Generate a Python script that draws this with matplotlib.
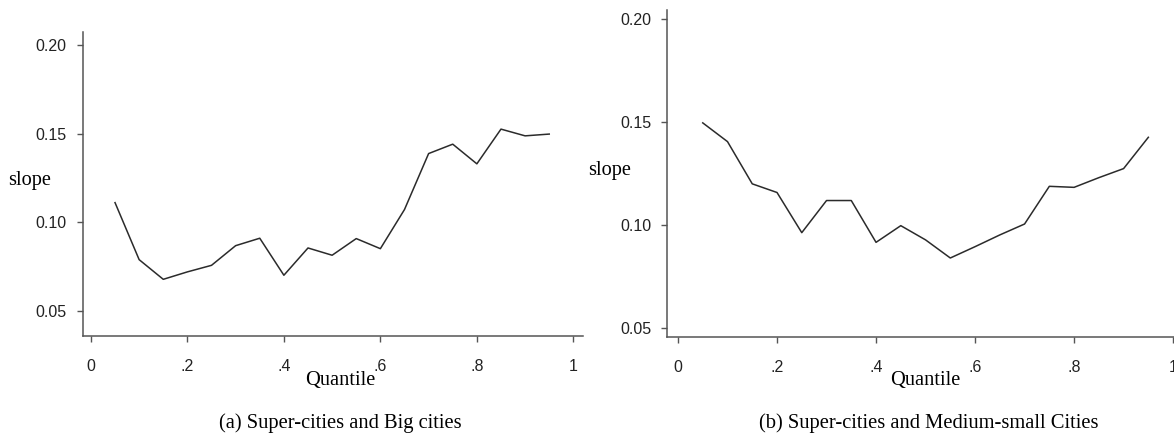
import numpy as np
import matplotlib
matplotlib.use('Agg')
import matplotlib.pyplot as plt

quantile = [0.05, 0.10, 0.15, 0.20, 0.25, 0.30, 0.35, 0.40, 0.45, 0.50,
            0.55, 0.60, 0.65, 0.70, 0.75, 0.80, 0.85, 0.90, 0.95]
slope_big = [0.1112, 0.0790, 0.0679, 0.0721, 0.0758, 0.0869, 0.0911, 0.0702, 0.0856, 0.0815,
             0.0909, 0.0852, 0.1073, 0.1389, 0.1442, 0.1331, 0.1527, 0.1489, 0.1499]
slope_small = [0.1497, 0.1406, 0.1201, 0.1159, 0.0964, 0.1120, 0.1120, 0.0917, 0.0998, 0.0929,
               0.0841, 0.0896, 0.0953, 0.1006, 0.1189, 0.1184, 0.1231, 0.1275, 0.1427]
xticks = [0, 0.2, 0.4, 0.6, 0.8, 1]
xlabels = ['0', '.2', '.4', '.6', '.8', '1']
yticks = [0.05, 0.10, 0.15, 0.20]
ylabels = ['0.05', '0.10', '0.15', '0.20']
captions = ['(a) Super-cities and Big cities', '(b) Super-cities and Medium-small Cities']

W, H = 1174, 433
fig = plt.figure(figsize=(W / 100, H / 100), dpi=100)

def px(x0, y0, x1, y1):
    # pixel box (top-left origin) -> figure fraction rect
    return [x0 / W, 1 - y1 / H, (x1 - x0) / W, (y1 - y0) / H]

serif = 'Liberation Serif'
sans = 'Liberation Sans'

def panel(rect, y, ylim, xlim):
    ax = fig.add_axes(rect)
    ax.plot(quantile, y, color='#2b2b2b', lw=1.1)
    ax.set_xlim(xlim)
    ax.set_ylim(ylim)
    for s in ['top', 'right']:
        ax.spines[s].set_visible(False)
    for s in ['left', 'bottom']:
        ax.spines[s].set_color('#555555')
        ax.spines[s].set_linewidth(1.1)
    ax.set_xticks(xticks)
    ax.set_xticklabels(xlabels, fontfamily=sans, fontsize=11.5)
    ax.set_yticks(yticks)
    ax.set_yticklabels(ylabels, fontfamily=sans, fontsize=11.5)
    ax.tick_params(axis='both', colors='#555555', labelcolor='#222222', length=4.5, width=1)
    ax.tick_params(axis='x', pad=12)
    ax.tick_params(axis='y', pad=7)
    return ax

panel(px(82.7, 31.7, 583, 336), slope_big, (0.0359, 0.2077), (-0.017, 1.02))
panel(px(667.3, 10, 1183, 337.3), slope_small, (0.0456, 0.2045), (-0.0216, 1.02))

fig.text(8 / W, 1 - 181 / H, 'slope', fontfamily=serif, fontsize=14.7, ha='left', va='center')
fig.text(588 / W, 1 - 170 / H, 'slope', fontfamily=serif, fontsize=14.7, ha='left', va='center')
fig.text(340 / W, 1 - 381 / H, 'Quantile', fontfamily=serif, fontsize=14.7, ha='center', va='center')
fig.text(925 / W, 1 - 381 / H, 'Quantile', fontfamily=serif, fontsize=14.7, ha='center', va='center')
fig.text(340.5 / W, 1 - 423 / H, captions[0], fontfamily=serif, fontsize=14.8, ha='center', va='center')
fig.text(929 / W, 1 - 423 / H, captions[1], fontfamily=serif, fontsize=14.8, ha='center', va='center')

fig.savefig('out.png', dpi=100)
